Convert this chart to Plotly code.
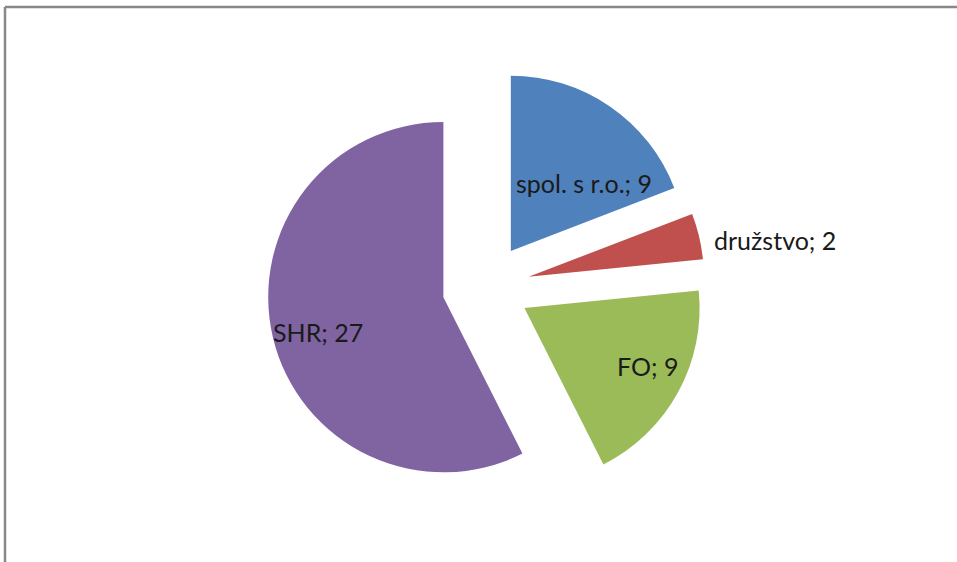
import math
import plotly.graph_objects as go

labels = ["spol. s r.o.", "družstvo", "FO", "SHR"]
values = [9, 2, 9, 27]
colors = ["#4F81BD", "#C0504D", "#9BBB59", "#8064A2"]

# label placement style (radial fraction of radius, angular fraction within slice)
label_k = [0.57, 1.07, 0.78, 0.74]
label_f = [0.68, 0.63, 0.45, 0.49]
label_anchor = ["center", "left", "center", "center"]

W, H = 957, 562
cx, cy, half = 486, 287, 219
PULL = 0.25
r = half / (1 + PULL)

fig = go.Figure(go.Pie(
    labels=labels, values=values, sort=False, direction="clockwise", rotation=0,
    marker=dict(colors=colors, line=dict(width=0)),
    pull=[PULL] * len(values), textinfo="none", textposition="none",
    showlegend=False, hoverinfo="label+value",
    domain=dict(x=[(cx - half - 150) / W, (cx + half + 150) / W],
                y=[(H - cy - half) / H, (H - cy + half) / H]),
))

total = sum(values)
annotations = []
start = 0.0
for lab, v, k, f, anc in zip(labels, values, label_k, label_f, label_anchor):
    span = 360.0 * v / total
    mid = math.radians(start + span / 2)
    th = math.radians(start + f * span)
    sx = cx + PULL * r * math.sin(mid)
    sy = cy - PULL * r * math.cos(mid)
    px = sx + k * r * math.sin(th)
    py = sy - k * r * math.cos(th)
    annotations.append(dict(
        x=px / W, y=1 - py / H, xref="paper", yref="paper",
        text=f"{lab}; {v}", showarrow=False, xanchor=anc, yanchor="middle",
        font=dict(family="Lato", size=25, color="#1A1A1A"),
    ))
    start += span

fig.update_layout(
    width=W, height=H, autosize=False,
    margin=dict(l=0, r=0, t=0, b=0, pad=0, autoexpand=False),
    paper_bgcolor="white", plot_bgcolor="white",
    annotations=annotations,
    shapes=[
        dict(type="line", xref="paper", yref="paper", x0=5 / W, x1=1.0, y0=1 - 7 / H, y1=1 - 7 / H,
             line=dict(color="#888888", width=2.5)),
        dict(type="line", xref="paper", yref="paper", x0=5 / W, x1=5 / W, y0=1 - 7 / H, y1=0,
             line=dict(color="#888888", width=2.5)),
    ],
)

fig.write_html("out.html", config={"displayModeBar": False},
               post_script="document.body.style.margin='0px';")
